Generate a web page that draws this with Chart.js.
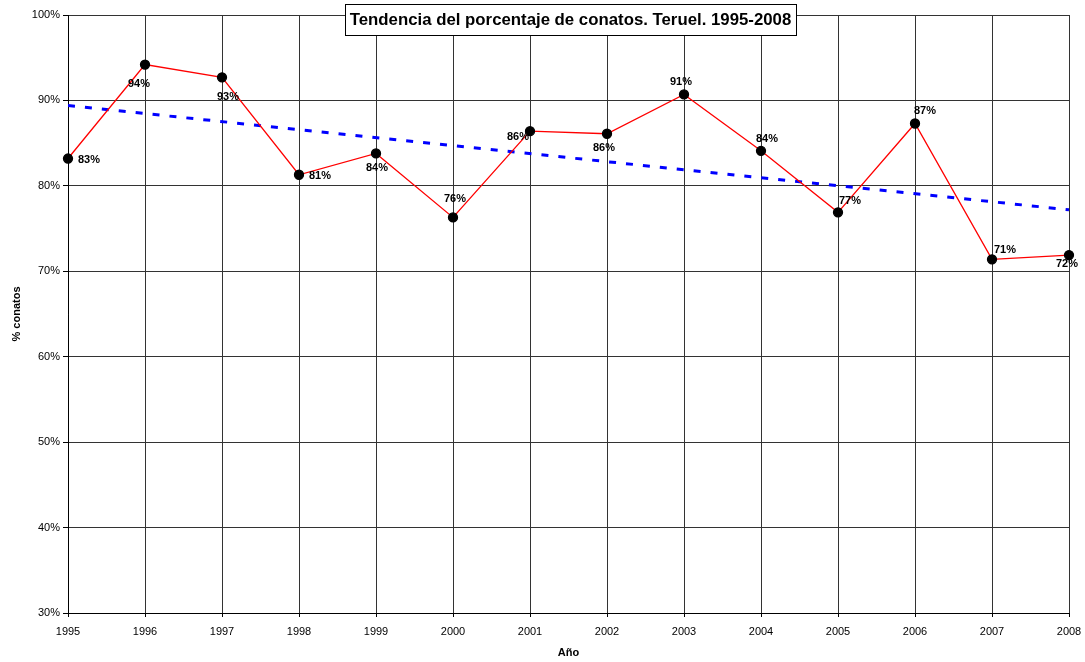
<!DOCTYPE html>
<html lang="es">
<head>
    <meta charset="UTF-8">
    <title>Tendencia del porcentaje de conatos. Teruel. 1995-2008</title>
    <script src="https://cdn.jsdelivr.net/npm/chart.js@4/dist/chart.umd.min.js"></script>
    <style>
        html, body { margin: 0; padding: 0; background: #fff; }
        #wrap { width: 1085px; height: 662px; }
    </style>
</head>
<body>
<div id="wrap"><canvas id="chart" width="1085" height="662"></canvas></div>

<script>
    // Data
    const years = [1995, 1996, 1997, 1998, 1999, 2000, 2001, 2002, 2003, 2004, 2005, 2006, 2007, 2008];
    const pctConatos = [83.2, 94.2, 92.7, 81.3, 83.8, 76.3, 86.4, 86.1, 90.7, 84.1, 76.9, 87.3, 71.4, 71.9];
    const trendYears = [1995, 2008];
    const trendValues = [89.4, 77.2];
    const yTicks = [30, 40, 50, 60, 70, 80, 90, 100];

    const chartTitle = 'Tendencia del porcentaje de conatos. Teruel. 1995-2008';
    const xTitle = 'Año';
    const yTitle = '% conatos';

    // label placement relative to each point (px)
    const labelOffsets = [
        [21, 1], [-6, 19], [6, 20], [21, 1], [1, 15], [2, -18], [-12, 6],
        [-3, 14], [-3, -12], [6, -12], [12, -11], [10, -13], [13, -9], [-2, 9]
    ];

    const FONT = 'Arial, "Liberation Sans", sans-serif';

    // point labels, axis titles and boxed title
    const annotate = {
        id: 'annotate',
        afterDatasetsDraw(chart) {
            const ctx = chart.ctx;
            const meta = chart.getDatasetMeta(0);
            ctx.save();
            ctx.font = 'bold 11px ' + FONT;
            ctx.fillStyle = '#000';
            ctx.textAlign = 'center';
            ctx.textBaseline = 'middle';
            meta.data.forEach((pt, i) => {
                const off = labelOffsets[i];
                ctx.fillText(Math.round(pctConatos[i]) + '%', pt.x + off[0], pt.y + off[1]);
            });
            ctx.restore();
        },
        afterDraw(chart) {
            const ctx = chart.ctx;
            const area = chart.chartArea;
            ctx.save();

            // axis titles
            ctx.font = 'bold 11px ' + FONT;
            ctx.fillStyle = '#000';
            ctx.textAlign = 'center';
            ctx.textBaseline = 'middle';
            ctx.fillText(xTitle, (area.left + area.right) / 2, 653);
            ctx.save();
            ctx.translate(17, (area.top + area.bottom) / 2);
            ctx.rotate(-Math.PI / 2);
            ctx.fillText(yTitle, 0, 0);
            ctx.restore();

            // boxed chart title
            ctx.font = 'bold 16.8px ' + FONT;
            const w = ctx.measureText(chartTitle).width;
            const cx = 570.5, top = 4, h = 31;
            const bw = Math.round(w + 10);
            const bx = Math.round(cx - bw / 2);
            ctx.fillStyle = '#fff';
            ctx.fillRect(bx, top, bw, h);
            ctx.strokeStyle = '#000';
            ctx.lineWidth = 1;
            ctx.strokeRect(bx + 0.5, top + 0.5, bw, h);
            ctx.fillStyle = '#000';
            ctx.fillText(chartTitle, cx, top + h / 2 + 1);
            ctx.restore();
        }
    };

    new Chart(document.getElementById('chart'), {
        type: 'line',
        data: {
            datasets: [
                {
                    label: '% conatos',
                    data: years.map((y, i) => ({ x: y, y: pctConatos[i] })),
                    borderColor: '#ff0000',
                    borderWidth: 1.3,
                    pointBackgroundColor: '#000',
                    pointBorderColor: '#000',
                    pointRadius: 4.5,
                    tension: 0,
                    clip: false
                },
                {
                    label: 'Tendencia',
                    data: trendYears.map((y, i) => ({ x: y, y: trendValues[i] })),
                    borderColor: '#0000ff',
                    borderWidth: 3,
                    borderDash: [7, 10],
                    pointRadius: 0,
                    tension: 0
                }
            ]
        },
        options: {
            responsive: false,
            animation: false,
            layout: { padding: { top: 15, right: 16, left: 0, bottom: 0 } },
            plugins: {
                legend: { display: false },
                tooltip: { enabled: false }
            },
            scales: {
                x: {
                    type: 'linear',
                    min: 1995,
                    max: 2008,
                    afterBuildTicks(scale) {
                        scale.ticks = years.map(v => ({ value: v }));
                    },
                    afterFit(scale) {
                        scale.height = 49;
                        scale.paddingLeft = 0;
                        scale.paddingRight = 0;
                    },
                    ticks: {
                        callback: v => String(v),
                        color: '#000',
                        font: { family: FONT, size: 11 },
                        padding: 8,
                        maxRotation: 0
                    },
                    grid: {
                        color: '#333',
                        lineWidth: 1,
                        tickLength: 4,
                        tickColor: '#000'
                    },
                    border: { color: '#000', width: 1 }
                },
                y: {
                    min: 30,
                    max: 100,
                    afterBuildTicks(scale) {
                        scale.ticks = yTicks.map(v => ({ value: v }));
                    },
                    afterFit(scale) {
                        scale.width = 68;
                        scale.paddingTop = 0;
                        scale.paddingBottom = 0;
                    },
                    ticks: {
                        callback: v => v + '%',
                        color: '#000',
                        font: { family: FONT, size: 11 },
                        padding: 3
                    },
                    grid: {
                        color: '#333',
                        lineWidth: 1,
                        tickLength: 5,
                        tickColor: '#000'
                    },
                    border: { color: '#000', width: 1 }
                }
            }
        },
        plugins: [annotate]
    });
</script>
</body>
</html>
